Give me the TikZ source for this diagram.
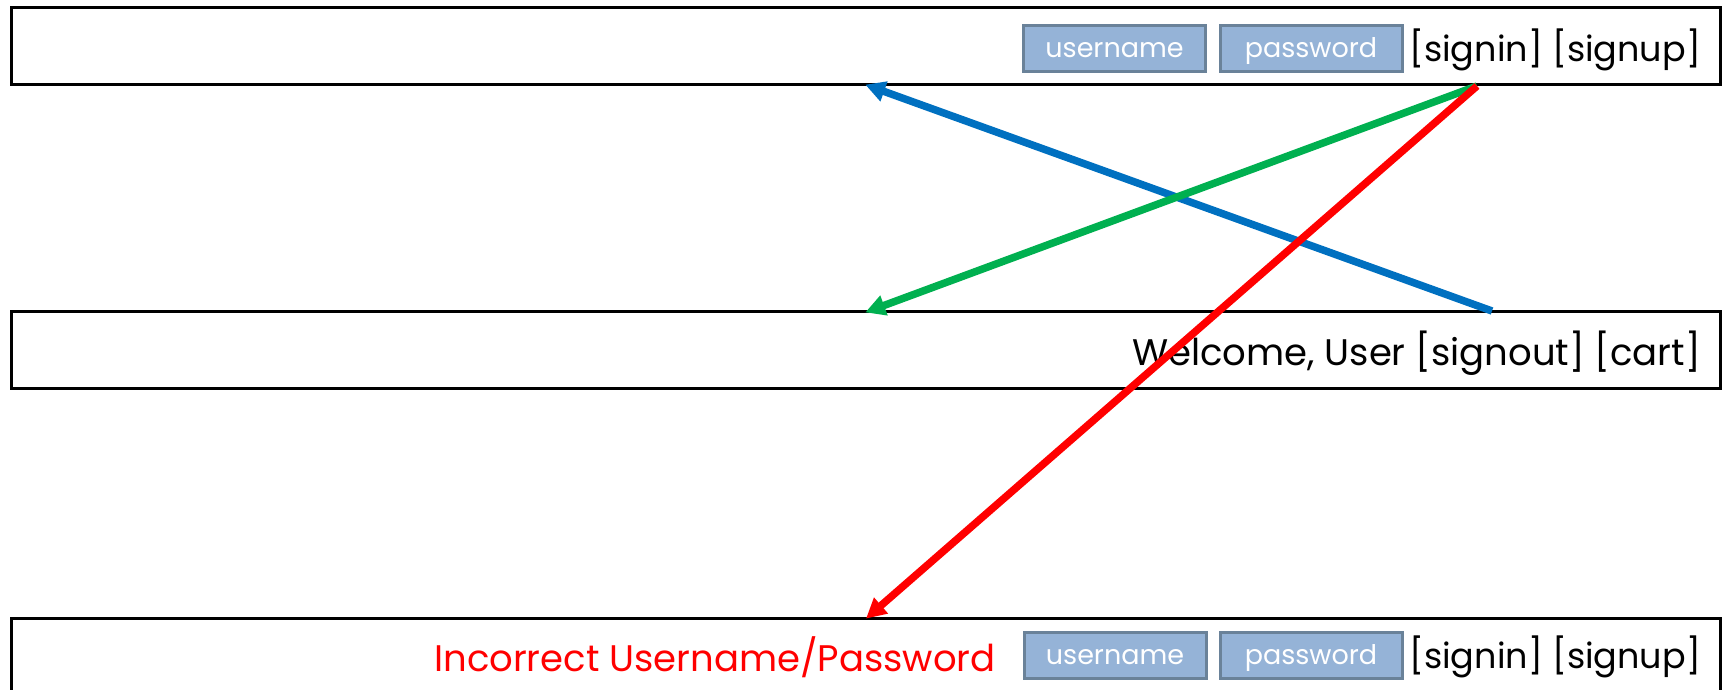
\documentclass[tikz,border=0pt]{standalone}
\usepackage{fontspec}
\setmainfont{Poppins}
\usetikzlibrary{arrows.meta}
\definecolor{fieldfill}{HTML}{95B3D7}
\definecolor{fielddraw}{HTML}{6A8299}
\definecolor{myblue}{HTML}{0070C0}
\definecolor{mygreen}{HTML}{00B050}
\tikzset{
  pagebox/.style={draw=black, line width=3pt, fill=none},
  field/.style={draw=fielddraw, fill=fieldfill, line width=3pt, text=white, font=\fontsize{27}{30}\selectfont, minimum width=182pt, minimum height=46pt, inner sep=0pt},
  ctext/.style={font=\fontsize{35}{42}\selectfont, inner sep=0pt, anchor=east},
  conn/.style={line width=7.5pt, -{Triangle[length=20pt,width=20pt]}, shorten >=-4pt}
}
\newcommand{\fieldlabel}[1]{\raisebox{-9.5pt}[0pt][0pt]{#1}}
\begin{document}
\begin{tikzpicture}[x=1pt,y=-1pt]
\useasboundingbox (0,0) rectangle (1725,690);
\clip (0,0) rectangle (1725,690);
% boxes
\draw[pagebox] (11,8) rectangle (1720,85);
\draw[pagebox] (11,311) rectangle (1720,388);
\draw[pagebox] (11,618) rectangle (1720,720);
% top page
\node[field] (u1) at (1114.5,48.5) {\fieldlabel{username}};
\node[field] (p1) at (1311,48.5) {\fieldlabel{password}};
\node[ctext] (s1) at (1701,50) {[signin] [signup]};
% middle page
\node[ctext, font=\fontsize{37}{42}\selectfont] (w) at (1701,353) {Welcome, User [signout] [cart]};
% bottom page
\node[field] (u2) at (1115,655) {\fieldlabel{username}};
\node[field] (p2) at (1311,655) {\fieldlabel{password}};
\node[ctext] (s2) at (1701,657) {[signin] [signup]};
\node[ctext, text=red, font=\fontsize{37}{42}\selectfont] (err) at (996,657) {Incorrect Username/Password};
% connector ends
\coordinate (topsrc) at (1477,86);
\coordinate (toptgt) at (869,86);
\coordinate (midsrc) at (1492,311);
\coordinate (midtgt) at (869,311);
\coordinate (bottgt) at (869,616);
\draw[conn, myblue] (midsrc) -- (toptgt);
\draw[conn, mygreen] (topsrc) -- (midtgt);
\draw[conn, red] (topsrc) -- (bottgt);
\end{tikzpicture}
\end{document}
